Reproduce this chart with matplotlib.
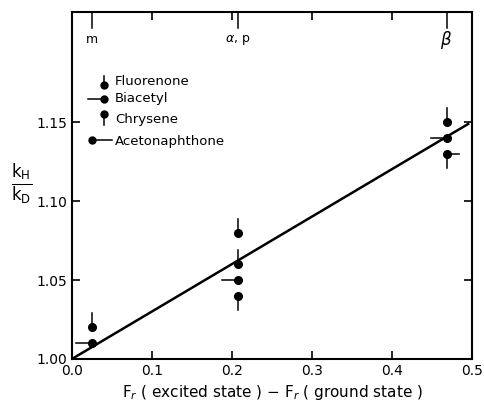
import matplotlib
matplotlib.use('Agg')
import matplotlib.pyplot as plt

# data
fr_x = [0.025, 0.025, 0.207, 0.207, 0.207, 0.207, 0.468, 0.468, 0.468]
kh_kd = [1.020, 1.010, 1.080, 1.060, 1.050, 1.040, 1.150, 1.140, 1.130]
# which compound each point belongs to
compound = ['F', 'B', 'F', 'F', 'B', 'C', 'F', 'B', 'A']

fit_x = [0.0, 0.495]
fit_y = [1.0, 1.149]

pos_labels = ['m', r'$\alpha$, p', r'$\beta$']
pos_x = [0.025, 0.207, 0.468]

xticks = [0.0, 0.1, 0.2, 0.3, 0.4, 0.5]
yticks = [1.00, 1.05, 1.10, 1.15]

legend_names = ['Fluorenone', 'Biacetyl', 'Chrysene', 'Acetonaphthone']

plt.rcParams['font.family'] = ['DejaVu Sans']

fig = plt.figure(figsize=(4.85, 4.01), dpi=100)
ax = fig.add_axes([0.1485, 0.105, 0.825, 0.865])
ax.set_xlim(0, 0.5)
ax.set_ylim(1.0, 1.22)

ax.plot(fit_x, fit_y, 'k-', lw=1.8)

dy = 0.009
dx = 0.02
for x, y, c in zip(fr_x, kh_kd, compound):
    ax.plot(x, y, 'ko', ms=5.5)
    if c == 'F':
        ax.plot([x, x], [y, y + dy], 'k-', lw=1.1)
    elif c == 'C':
        ax.plot([x, x], [y, y - dy], 'k-', lw=1.1)
    elif c == 'B':
        ax.plot([x - dx, x], [y, y], 'k-', lw=1.1)
    elif c == 'A':
        ax.plot([x, x + 0.016], [y, y], 'k-', lw=1.1)
        ax.plot([x, x], [y, y - dy], 'k-', lw=1.1)

# position labels along the top
for lab, x in zip(pos_labels, pos_x):
    ax.plot([x, x], [1.22, 1.21], 'k-', lw=1.1)
    fs = 12 if lab == r'$\beta$' else 9
    ax.text(x, 1.2025, lab, ha='center', va='center', fontsize=fs)

# legend drawn by hand
lx = 0.08
lys = [0.79, 0.749, 0.706, 0.631]
tr = ax.transAxes
ax.plot([lx, lx], [lys[0], lys[0] + 0.025], 'k-', lw=1.1, transform=tr)
ax.plot([lx - 0.04, lx], [lys[1], lys[1]], 'k-', lw=1.1, transform=tr)
ax.plot([lx, lx], [lys[2], lys[2] - 0.032], 'k-', lw=1.1, transform=tr)
ax.plot([0.05, 0.1], [lys[3], lys[3]], 'k-', lw=1.1, transform=tr)
ax.plot([lx, lx, lx], lys[:3], 'ko', ms=5, transform=tr)
ax.plot([0.05], [lys[3]], 'ko', ms=5, transform=tr)
text_y = [0.80, 0.752, 0.69, 0.626]
for name, y in zip(legend_names, text_y):
    ax.text(0.107, y, name, transform=tr, va='center', fontsize=9.5)

ax.set_xticks(xticks)
ax.set_xticklabels(['0.0', '0.1', '0.2', '0.3', '0.4', '0.5'])
ax.set_yticks(yticks)
ax.set_yticklabels(['1.00', '1.05', '1.10', '1.15'])
ax.tick_params(direction='in', top=True, right=True, length=6, width=1.2,
               labelsize=10)
ax.tick_params(axis='x', pad=4)
for s in ax.spines.values():
    s.set_linewidth(1.5)

ax.set_xlabel(r'F$_r$ ( excited state ) $-$ F$_r$ ( ground state )',
              fontsize=11, labelpad=3)
fig.text(0.045, 0.54, r'$\frac{\mathrm{k_H}}{\mathrm{k_D}}$', fontsize=17,
         ha='center', va='center')

plt.savefig('out.png')
